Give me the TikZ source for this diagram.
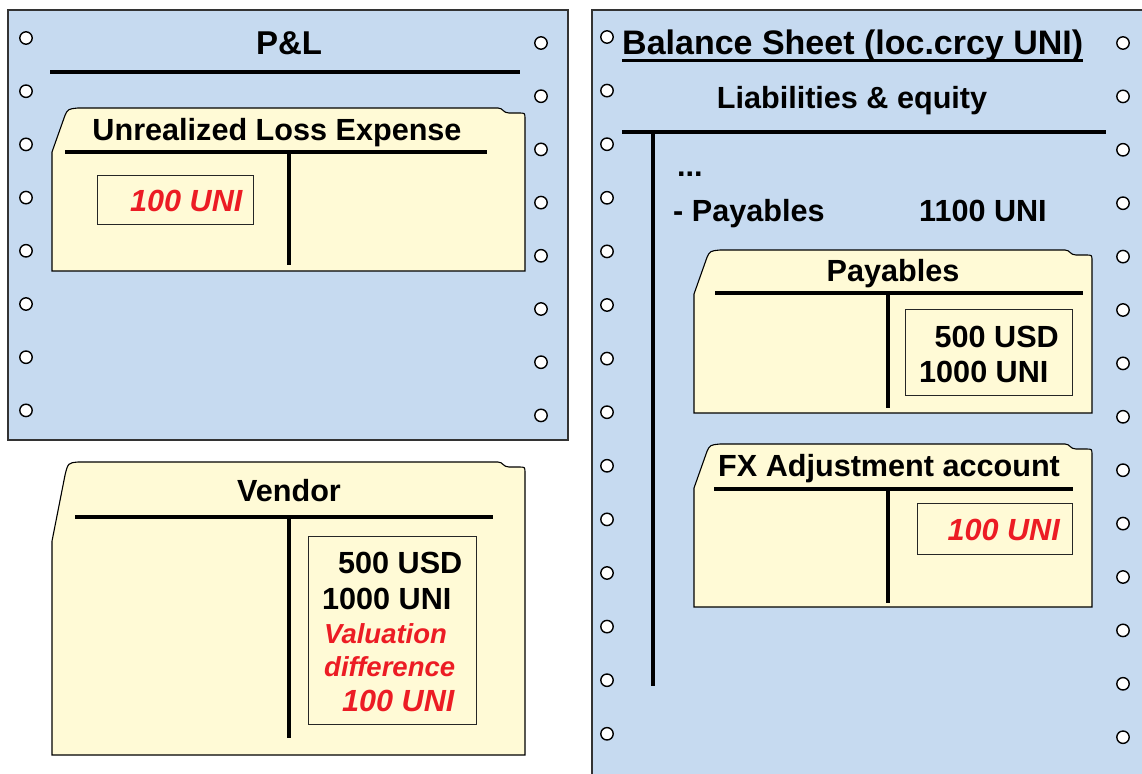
\documentclass[tikz,border=0pt]{standalone}
\usepackage{fontspec}
\setmainfont{Liberation Sans}
\usepackage{xcolor}
\definecolor{panelblue}{HTML}{C6DAF0}
\definecolor{cardfill}{HTML}{FFFAD6}
\definecolor{valred}{HTML}{EC1C24}
\usetikzlibrary{calc}

% folder card: left, top, right, bottom
\newcommand{\ledgercard}[4]{%
  \draw[card] (#1,#4) -- (#1,{#2+0.27*(#4-#2)}) -- ({#1+13},{#2+0.045*(#4-#2)})
    .. controls ({#1+16},{#2+1}) .. ({#1+26},#2) -- ({#3-27},#2)
    .. controls ({#3-22},#2) and ({#3-22},{#2+5}) .. ({#3-16},{#2+5}) -- ({#3-6},{#2+5})
    .. controls (#3,{#2+5}) .. (#3,{#2+11}) -- (#3,#4) -- cycle;}

\begin{document}
\begin{tikzpicture}[
  x=1pt, y=-1pt,
  font=\fontsize{30.6}{36}\selectfont\bfseries,
  panel/.style={draw=black!80, fill=panelblue, line width=1.2pt},
  hole/.style={draw=black, fill=white, line width=1.4pt},
  card/.style={draw=black, fill=cardfill, line width=1.1pt},
  tline/.style={line width=3.6pt},
  valbox/.style={draw=black!85, line width=1pt},
  lbl/.style={anchor=base, inner sep=0pt},
  val/.style={anchor=base west, inner sep=0pt},
  redval/.style={val, text=valred, font=\fontsize{30.6}{36}\selectfont\bfseries\itshape},
  rednote/.style={redval, font=\fontsize{27.5}{32}\selectfont\bfseries\itshape}
]
  \useasboundingbox (0,0) rectangle (1142,773);
  \clip (0,0) rectangle (1142,773);

  % P&L panel
  \draw[panel] (8,10) rectangle (568,440);
  \foreach \i in {0,...,7} {
    \draw[hole] (26,{38+53.2*\i}) circle (6.2);
    \draw[hole] (541,{43+53.2*\i}) circle (6.2);
  }
  \node[lbl, font=\fontsize{33}{38}\selectfont\bfseries] (pl) at (289,55) {P\&L};
  \draw[tline] (50,72) -- (520,72);

  \ledgercard{52}{108}{525}{271}
  \node[lbl] (ule) at (277,140) {Unrealized Loss Expense};
  \draw[tline] (65,152) -- (487,152);
  \draw[tline] (289,152) -- (289,265);
  \draw[valbox] (97,175) rectangle (253,224);
  \node[redval] (uleval) at (130,211) {100 UNI};

  % vendor card
  \ledgercard{52}{462}{525}{755}
  \node[lbl] (vendor) at (289,501) {Vendor};
  \draw[tline] (75,517) -- (493,517);
  \draw[tline] (289,517) -- (289,738);
  \draw[valbox] (308,536) rectangle (476,724);
  \node[val] (vusd) at (338,573) {500 USD};
  \node[val] (vuni) at (322,609) {1000 UNI};
  \node[rednote] (vdiff1) at (324,643) {Valuation};
  \node[rednote] (vdiff2) at (324,676) {difference};
  \node[redval] (vdiff3) at (342,711) {100 UNI};

  % balance sheet panel
  \draw[panel] (592,10) rectangle (1160,790);
  \foreach \i in {0,...,13} {
    \draw[hole] (607,{37+53.6*\i}) circle (6.2);
    \draw[hole] (1123,{43+53.4*\i}) circle (6.2);
  }
  \node[val, font=\fontsize{34}{40}\selectfont\bfseries] (bs) at (622,55)
    {Balance Sheet (loc.crcy UNI)};
  \draw[line width=3pt] ([yshift=-6pt]bs.base west) -- ([yshift=-6pt]bs.base east);
  \node[lbl] (liab) at (852,109) {Liabilities \& equity};
  \draw[tline] (622,132) -- (1106,132);
  \draw[tline] (653,132) -- (653,686);
  \node[val] (dots) at (677,176) {...};
  \node[val] (pay) at (673,221) {- Payables};
  \node[val] (payamt) at (919,221) {1100 UNI};

  \ledgercard{694}{250}{1092}{413}
  \node[lbl] (paytitle) at (893,281) {Payables};
  \draw[tline] (715,293) -- (1083,293);
  \draw[tline] (888,293) -- (888,408);
  \draw[valbox] (905,309) rectangle (1072,395);
  \node[val, anchor=base east] (pusd) at (1059,347) {500 USD};
  \node[val] (puni) at (919,382) {1000 UNI};

  \ledgercard{694}{444}{1092}{607}
  \node[val] (fx) at (718,476) {FX Adjustment account};
  \draw[tline] (714,489) -- (1073,489);
  \draw[tline] (888,489) -- (888,603);
  \draw[valbox] (917,503) rectangle (1072,554);
  \node[redval, anchor=base east] (fxval) at (1060,540) {100 UNI};
\end{tikzpicture}
\end{document}
